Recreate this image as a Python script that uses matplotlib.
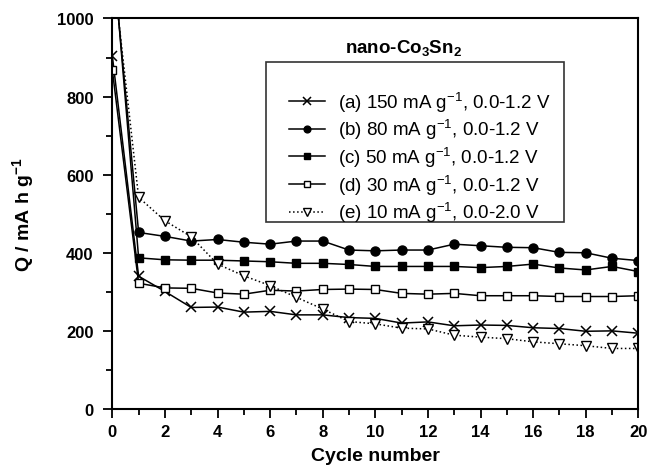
import matplotlib
matplotlib.use('Agg')
import matplotlib.pyplot as plt
from matplotlib.patches import Rectangle
from matplotlib.ticker import MultipleLocator

plt.rcParams['font.family'] = ['Liberation Sans', 'DejaVu Sans']
plt.rcParams['mathtext.fontset'] = 'custom'
plt.rcParams['mathtext.rm'] = 'Liberation Sans'
plt.rcParams['mathtext.bf'] = 'Liberation Sans:bold'
plt.rcParams['mathtext.default'] = 'regular'

# --- capacity vs cycle number for each test condition ---
cycles = list(range(0, 21))

q_150 = [904, 340, 301, 260, 261, 248, 250, 241, 241, 234, 232, 220, 223, 213,
         215, 214, 208, 206, 199, 200, 194]
q_80 = [1170, 452, 442, 430, 434, 427, 422, 430, 430, 407, 405, 407, 407, 422,
        418, 414, 413, 401, 400, 386, 380]
q_50 = [1190, 387, 382, 381, 381, 379, 377, 373, 373, 370, 365, 365, 365, 365,
        362, 365, 371, 361, 356, 365, 352]
q_30 = [868, 322, 310, 309, 297, 294, 304, 302, 306, 307, 306, 296, 294, 296,
        290, 290, 290, 288, 288, 288, 290]
q_10 = [1140, 542, 482, 441, 371, 341, 316, 286, 256, 224, 218, 207, 205, 189,
        184, 180, 172, 167, 162, 155, 155]

labels = [
    '(a) 150 mA g$^{-1}$, 0.0-1.2 V',
    '(b) 80 mA g$^{-1}$, 0.0-1.2 V',
    '(c) 50 mA g$^{-1}$, 0.0-1.2 V',
    '(d) 30 mA g$^{-1}$, 0.0-1.2 V',
    '(e) 10 mA g$^{-1}$, 0.0-2.0 V',
]

fig = plt.figure(figsize=(6.5, 4.77), dpi=100)
ax = fig.add_axes([0.1728, 0.1405, 0.8092, 0.8187])

lw = 1.1
ax.plot(cycles, q_150, color='black', lw=lw, marker='x', ms=7, mew=1.1,
        label=labels[0])
ax.plot(cycles, q_80, color='black', lw=lw, marker='o', ms=6.5,
        label=labels[1])
ax.plot(cycles, q_50, color='black', lw=lw, marker='s', ms=5.5,
        label=labels[2])
ax.plot(cycles, q_30, color='black', lw=lw, marker='s', ms=5.5, mfc='white',
        mew=1.0, label=labels[3])
ax.plot(cycles, q_10, color='black', lw=lw, ls=':', marker='v', ms=7.5,
        mfc='white', mew=1.0, label=labels[4])

ax.set_xlim(0, 20)
ax.set_ylim(0, 1000)
ax.xaxis.set_major_locator(MultipleLocator(2))
ax.xaxis.set_minor_locator(MultipleLocator(1))
ax.yaxis.set_major_locator(MultipleLocator(200))
ax.yaxis.set_minor_locator(MultipleLocator(100))
ax.tick_params(which='both', direction='out', width=1.3, top=False, right=False)
ax.tick_params(which='major', length=6.5, labelsize=12)
ax.tick_params(axis='y', which='major', pad=7)
ax.tick_params(axis='x', which='major', pad=4)
ax.tick_params(which='minor', length=4)
for lab in ax.get_xticklabels() + ax.get_yticklabels():
    lab.set_fontweight('bold')
for sp in ax.spines.values():
    sp.set_linewidth(1.5)

ax.set_xlabel('Cycle number', fontsize=14, fontweight='bold', labelpad=6)
ax.set_ylabel(r'Q / mA h g$^{\mathbf{-1}}$', fontsize=14, fontweight='bold',
              labelpad=15)

# legend frame drawn by hand so the empty strip above the entries is kept
ax.add_patch(Rectangle((0.2916, 0.4789), 0.5672, 0.4105, transform=ax.transAxes,
                       fill=False, lw=1.2, ec='#333333', zorder=5))
ax.text(0.5527, 0.927, r'nano-Co$_\mathbf{3}$Sn$_\mathbf{2}$', transform=ax.transAxes,
        ha='center', va='center', fontsize=13.5, fontweight='bold')
ax.legend(loc='upper left', bbox_to_anchor=(0.336, 0.818), frameon=False,
          fontsize=13.5, borderpad=0, handlelength=1.92, handletextpad=0.7,
          labelspacing=0.19, numpoints=1, borderaxespad=0, markerscale=0.75)

fig.savefig('out.png', dpi=100)
